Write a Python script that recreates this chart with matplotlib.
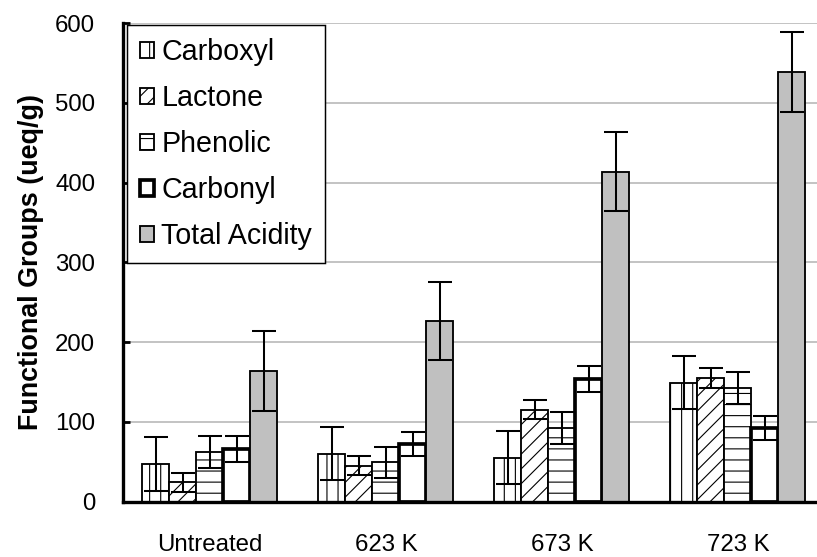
import numpy as np
import matplotlib
matplotlib.use('Agg')
import matplotlib.pyplot as plt

# functional groups (ueq/g) per treatment, with standard deviations
treatments = ['Untreated', '623 K', '673 K', '723 K']
groups = ['Carboxyl', 'Lactone', 'Phenolic', 'Carbonyl', 'Total Acidity']

carboxyl = [47, 60, 55, 149]
lactone = [24, 45, 115, 155]
phenolic = [62, 49, 92, 142]
carbonyl = [66, 72, 154, 92]
total_acidity = [164, 227, 414, 539]

carboxyl_err = [34, 33, 33, 33]
lactone_err = [12, 12, 12, 13]
phenolic_err = [20, 20, 20, 20]
carbonyl_err = [16, 15, 16, 15]
total_acidity_err = [50, 49, 50, 50]

values = [carboxyl, lactone, phenolic, carbonyl, total_acidity]
errors = [carboxyl_err, lactone_err, phenolic_err, carbonyl_err, total_acidity_err]

hatches = ['||', '///', '--', '', '']
fills = ['white', 'white', 'white', 'white', '#c0c0c0']
edge_lw = [1.0, 1.0, 1.0, 2.0, 1.0]

plt.rcParams['font.family'] = ['Liberation Sans', 'DejaVu Sans']
plt.rcParams['hatch.linewidth'] = 0.6

dpi = 400 / 3
fig = plt.figure(figsize=(817 / dpi, 557 / dpi), dpi=dpi)
ax = fig.add_axes([123 / 817, 55.5 / 557, 694 / 817, 478.2 / 557])

x = np.arange(len(treatments))
width = 0.1534
for i, name in enumerate(groups):
    pos = x + (i - 2) * width
    ax.bar(pos, values[i], width, color=fills[i], edgecolor='black',
           linewidth=edge_lw[i], hatch=hatches[i], label=name, zorder=2)
    ax.errorbar(pos, values[i], yerr=errors[i], fmt='none', ecolor='black',
                elinewidth=1.1, capsize=6.5, capthick=1.1, zorder=3)

ax.set_xlim(-0.494, 3.449)
ax.set_ylim(0, 600)
ax.set_yticks(np.arange(0, 601, 100))
ax.set_xticks(x)
ax.set_xticklabels(treatments)
ax.yaxis.grid(True, color='#c0c0c0', linewidth=1.0, zorder=0)
ax.set_axisbelow(True)

for side in ['top', 'right']:
    ax.spines[side].set_visible(False)
for side in ['left', 'bottom']:
    ax.spines[side].set_linewidth(1.8)

ax.tick_params(axis='y', direction='in', length=4, width=1.5, pad=15, labelsize=13)
ax.tick_params(axis='x', length=0, pad=17.5, labelsize=13)
ax.set_ylabel('Functional Groups (ueq/g)', fontsize=14.5, fontweight='bold', labelpad=6)

leg = ax.legend(loc='upper left', bbox_to_anchor=(127 / 817, 1 - 25 / 557),
                bbox_transform=fig.transFigure, borderaxespad=0, fontsize=15.5,
                handlelength=0.5, handleheight=0.5, handletextpad=0.25,
                labelspacing=0.63, borderpad=0.45, fancybox=False, framealpha=1)
leg.get_frame().set_edgecolor('black')
leg.get_frame().set_linewidth(0.8)

fig.savefig('out.png', dpi=dpi)
